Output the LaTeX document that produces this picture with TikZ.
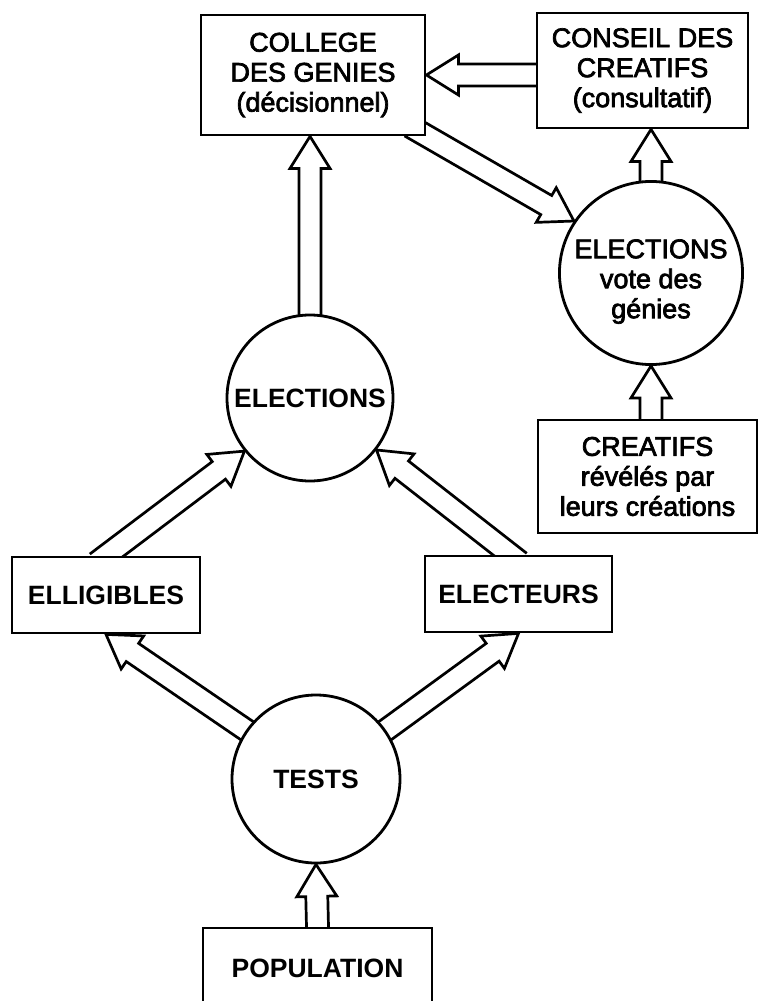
\documentclass[tikz,border=0pt]{standalone}
\usepackage{fontspec}
\setmainfont{Liberation Sans}
\newfontfamily\medfont{Liberation Sans}[FakeBold=2.6]
\usetikzlibrary{calc,backgrounds}

\newcommand{\shafthw}{11pt}
\newcommand{\headhw}{20pt}
\newcommand{\headlen}{32pt}
% hollow block arrow, from #1 (start, on the source) to the tip #2
\newcommand{\blockarrow}[2]{%
  \coordinate (ba-s) at ($(#1)!-12pt!(#2)$);
  \coordinate (ba-b) at ($(#2)!\headlen!(#1)$);
  \draw[hollow] ($(ba-s)!\shafthw!90:(#2)$) -- ($(ba-b)!\shafthw!90:(#2)$)
    -- ($(ba-b)!\headhw!90:(#2)$) -- (#2) -- ($(ba-b)!\headhw!-90:(#2)$)
    -- ($(ba-b)!\shafthw!-90:(#2)$) -- ($(ba-s)!\shafthw!-90:(#2)$);}

\begin{document}
\begin{tikzpicture}[
  x=1pt, y=-1pt,
  every node/.style={font=\medfont\fontsize{27}{30}\selectfont},
  box/.style={draw, fill=white, line width=2.8pt, align=center, inner sep=0pt},
  ring/.style={draw, fill=white, circle, line width=2.8pt, align=center,
               inner sep=0pt},
  heavy/.style={font=\rmfamily\fontsize{26.5}{30}\selectfont\bfseries},
  hollow/.style={draw, line width=2.7pt, line join=miter},
]
  \useasboundingbox (0,0) rectangle (763,1001);
  \clip (0,0) rectangle (763,1001);

  % Top row
  \node[box, minimum width=224pt, minimum height=120pt] (college) at (313,75)
    {COLLEGE\\DES GENIES\\(décisionnel)};
  \node[box, minimum width=211pt, minimum height=115pt] (conseil) at (642.5,70.5)
    {CONSEIL DES\\CREATIFS\\(consultatif)};

  % Right branch
  \node[ring, minimum size=178pt] (elecR) at (651,273)
    {\rule{0pt}{36pt}ELECTIONS\\vote des\\génies};
  \node[box, minimum width=219pt, minimum height=113pt] (creatifs) at (647.5,476.5)
    {CREATIFS\\révélés par\\leurs créations};

  % Left branch
  \node[ring, heavy, minimum size=166pt] (elecL) at (310,398) {ELECTIONS};
  \node[box, heavy, minimum width=188pt, minimum height=76pt] (ellig) at (106,595)
    {ELLIGIBLES};
  \node[box, heavy, minimum width=187pt, minimum height=76pt] (electeurs)
    at (518.5,594) {ELECTEURS};
  \node[ring, heavy, minimum size=168pt] (tests) at (316,779) {TESTS};
  \node[box, heavy, minimum width=229pt, minimum height=80pt] (population)
    at (317.5,968) {POPULATION};

  % Arrows, behind the nodes
  \begin{scope}[on background layer]
    \blockarrow{population.north}{tests.south}
    \blockarrow{tests.145}{ellig.south}
    \blockarrow{tests.35}{electeurs.south}
    \blockarrow{ellig.north}{elecL.219}
    \coordinate (a1) at ($(electeurs.north)+(-8,0)$);
    \blockarrow{a1}{elecL.-38}
    \coordinate (a2) at (elecL.north |- college.south);
    \blockarrow{elecL.north}{a2}
    \coordinate (a3) at ($(college.south east)+(-6,-4)$);
    \blockarrow{a3}{elecR.146}
    \coordinate (a4) at (conseil.west |- college.east);
    \blockarrow{a4}{college.east}
    \coordinate (a5) at (elecR.north |- conseil.south);
    \blockarrow{elecR.north}{a5}
    \coordinate (a6) at (elecR.south |- creatifs.north);
    \blockarrow{a6}{elecR.south}
  \end{scope}
\end{tikzpicture}
\end{document}
